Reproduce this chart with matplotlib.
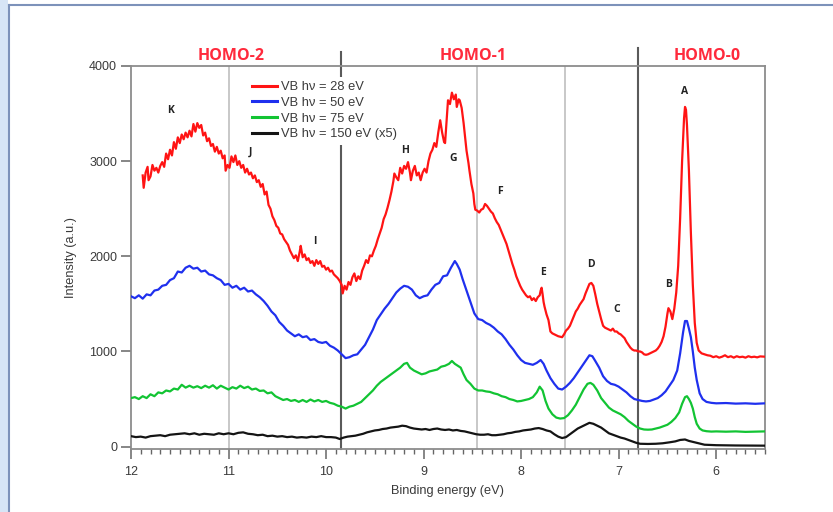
import matplotlib
matplotlib.use("Agg")
import matplotlib.pyplot as plt
from matplotlib.patches import Rectangle
from matplotlib.lines import Line2D
from matplotlib.ticker import MultipleLocator

# ---------------- data ----------------
red_points = [
    (11.88, 2850), (11.87, 2720), (11.85, 2880), (11.83, 2940), (11.82, 2800), (11.80, 2840),
    (11.78, 2960), (11.76, 2900), (11.74, 2930), (11.72, 2880), (11.70, 2950), (11.68, 2990),
    (11.66, 2940), (11.64, 3080), (11.62, 3020), (11.60, 3120), (11.58, 3060), (11.56, 3200),
    (11.54, 3130), (11.52, 3250), (11.50, 3190), (11.48, 3280), (11.46, 3230), (11.44, 3300),
    (11.42, 3250), (11.40, 3320), (11.38, 3260), (11.36, 3390), (11.34, 3310), (11.32, 3400),
    (11.30, 3350), (11.28, 3380), (11.26, 3270), (11.24, 3300), (11.22, 3210), (11.20, 3240),
    (11.18, 3160), (11.16, 3180), (11.14, 3100), (11.12, 3150), (11.10, 3080), (11.08, 3110),
    (11.06, 3030), (11.04, 3060), (11.03, 2900), (11.01, 2960), (10.99, 2930), (10.97, 3050),
    (10.95, 2990), (10.93, 3060), (10.91, 2960), (10.89, 3000), (10.87, 2930), (10.85, 2960),
    (10.83, 2880), (10.81, 2920), (10.79, 2860), (10.77, 2880), (10.75, 2820), (10.73, 2850),
    (10.71, 2780), (10.69, 2800), (10.67, 2730), (10.65, 2760), (10.63, 2650), (10.61, 2680),
    (10.59, 2540), (10.57, 2500), (10.55, 2420), (10.53, 2380), (10.51, 2320), (10.49, 2300),
    (10.47, 2240), (10.45, 2230), (10.43, 2180), (10.41, 2150), (10.39, 2120), (10.37, 2060),
    (10.35, 2020), (10.33, 1980), (10.31, 2010), (10.29, 1950), (10.27, 2050), (10.26, 2110),
    (10.24, 1990), (10.22, 2020), (10.20, 1960), (10.18, 1980), (10.16, 1930), (10.14, 1950),
    (10.12, 1900), (10.10, 1960), (10.08, 1920), (10.06, 1950), (10.04, 1890), (10.02, 1900),
    (10.00, 1860), (9.98, 1880), (9.96, 1840), (9.94, 1850), (9.92, 1810), (9.90, 1790),
    (9.88, 1770), (9.86, 1740), (9.84, 1700), (9.83, 1610), (9.81, 1690), (9.79, 1650),
    (9.77, 1730), (9.75, 1700), (9.73, 1780), (9.71, 1820), (9.69, 1740), (9.67, 1790),
    (9.65, 1760), (9.63, 1850), (9.61, 1900), (9.59, 1960), (9.57, 1930), (9.55, 2010),
    (9.53, 2000), (9.51, 2060), (9.49, 2110), (9.47, 2180), (9.45, 2240), (9.43, 2300),
    (9.41, 2390), (9.39, 2440), (9.37, 2510), (9.35, 2590), (9.33, 2680), (9.31, 2790),
    (9.30, 2870), (9.28, 2830), (9.26, 2800), (9.24, 2930), (9.22, 2870), (9.20, 2950),
    (9.18, 2920), (9.16, 2990), (9.14, 2880), (9.13, 2800), (9.11, 2900), (9.09, 2950),
    (9.07, 2850), (9.05, 2880), (9.03, 2800), (9.01, 2880), (8.99, 2920), (8.97, 2880),
    (8.95, 3000), (8.93, 3080), (8.91, 3120), (8.89, 3190), (8.87, 3150), (8.85, 3300),
    (8.83, 3430), (8.81, 3300), (8.79, 3200), (8.78, 3190), (8.76, 3500), (8.75, 3640),
    (8.73, 3600), (8.71, 3720), (8.69, 3650), (8.67, 3700), (8.66, 3570), (8.64, 3650),
    (8.63, 3640), (8.61, 3560), (8.59, 3400), (8.57, 3200), (8.56, 3110), (8.54, 2980),
    (8.53, 2900), (8.51, 2760), (8.49, 2660), (8.48, 2550), (8.47, 2490), (8.45, 2480),
    (8.43, 2460), (8.41, 2490), (8.39, 2500), (8.37, 2550), (8.35, 2530), (8.33, 2500),
    (8.31, 2470), (8.29, 2450), (8.27, 2400), (8.25, 2360), (8.23, 2330), (8.21, 2280),
    (8.19, 2230), (8.17, 2180), (8.15, 2130), (8.13, 2060), (8.11, 1990), (8.09, 1920),
    (8.07, 1860), (8.05, 1790), (8.03, 1740), (8.01, 1690), (7.99, 1650), (7.97, 1620),
    (7.95, 1590), (7.93, 1570), (7.91, 1580), (7.89, 1540), (7.87, 1560), (7.85, 1530),
    (7.83, 1570), (7.81, 1590), (7.80, 1640), (7.79, 1670), (7.78, 1600), (7.77, 1520),
    (7.76, 1470), (7.74, 1390), (7.72, 1330), (7.70, 1210), (7.68, 1190), (7.66, 1180),
    (7.64, 1170), (7.62, 1160), (7.60, 1155), (7.58, 1150), (7.56, 1180), (7.54, 1220),
    (7.52, 1240), (7.50, 1270), (7.48, 1320), (7.46, 1370), (7.44, 1420), (7.42, 1450),
    (7.40, 1490), (7.38, 1520), (7.36, 1550), (7.34, 1610), (7.32, 1660), (7.30, 1710),
    (7.28, 1720), (7.26, 1690), (7.24, 1600), (7.22, 1500), (7.20, 1420), (7.18, 1340),
    (7.16, 1270), (7.14, 1250), (7.12, 1240), (7.10, 1230), (7.08, 1220), (7.06, 1240),
    (7.04, 1210), (7.02, 1210), (7.00, 1190), (6.98, 1180), (6.96, 1160), (6.94, 1140),
    (6.92, 1100), (6.90, 1070), (6.88, 1040), (6.86, 1020), (6.84, 1010), (6.82, 1010),
    (6.80, 1000), (6.78, 1000), (6.76, 990), (6.74, 970), (6.72, 965), (6.70, 970),
    (6.68, 980), (6.66, 990), (6.64, 1000), (6.62, 1010), (6.60, 1030), (6.58, 1060),
    (6.56, 1100), (6.54, 1160), (6.52, 1260), (6.50, 1400), (6.49, 1455), (6.47, 1420),
    (6.45, 1340), (6.43, 1450), (6.41, 1620), (6.39, 1900), (6.37, 2400), (6.35, 3000),
    (6.33, 3450), (6.32, 3570), (6.31, 3540), (6.30, 3380), (6.28, 2900), (6.26, 2250),
    (6.24, 1700), (6.22, 1300), (6.20, 1090), (6.18, 1010), (6.15, 980), (6.12, 970),
    (6.09, 960), (6.06, 955), (6.03, 940), (6.00, 950), (5.97, 935), (5.94, 945),
    (5.91, 960), (5.88, 940), (5.85, 950), (5.82, 935), (5.79, 950), (5.76, 940),
    (5.73, 945), (5.70, 935), (5.67, 950), (5.64, 940), (5.61, 945), (5.58, 938),
    (5.55, 948), (5.50, 945),
]

blue_points = [
    (12.00, 1580), (11.96, 1560), (11.92, 1590), (11.88, 1555), (11.84, 1600), (11.80, 1590),
    (11.76, 1640), (11.72, 1650), (11.68, 1690), (11.64, 1700), (11.60, 1750), (11.56, 1770),
    (11.52, 1840), (11.48, 1830), (11.44, 1880), (11.40, 1900), (11.36, 1870), (11.32, 1880),
    (11.28, 1840), (11.24, 1850), (11.20, 1810), (11.16, 1800), (11.12, 1770), (11.08, 1750),
    (11.04, 1700), (11.00, 1710), (10.96, 1670), (10.92, 1690), (10.88, 1650), (10.84, 1670),
    (10.80, 1630), (10.76, 1640), (10.72, 1600), (10.68, 1570), (10.64, 1530), (10.60, 1480),
    (10.56, 1420), (10.52, 1380), (10.48, 1310), (10.44, 1270), (10.40, 1220), (10.36, 1190),
    (10.32, 1160), (10.28, 1180), (10.24, 1150), (10.20, 1160), (10.16, 1120), (10.12, 1130),
    (10.08, 1100), (10.04, 1090), (10.00, 1100), (9.96, 1060), (9.92, 1040), (9.88, 1010),
    (9.84, 970), (9.80, 930), (9.76, 940), (9.72, 960), (9.68, 970), (9.64, 1020),
    (9.60, 1070), (9.56, 1150), (9.52, 1230), (9.48, 1330), (9.44, 1390), (9.40, 1450),
    (9.36, 1500), (9.32, 1560), (9.28, 1620), (9.24, 1660), (9.20, 1690), (9.16, 1680),
    (9.12, 1650), (9.08, 1590), (9.04, 1560), (9.00, 1580), (8.96, 1590), (8.92, 1650),
    (8.88, 1700), (8.84, 1720), (8.80, 1790), (8.76, 1800), (8.72, 1880), (8.68, 1950),
    (8.66, 1920), (8.63, 1860), (8.60, 1760), (8.56, 1640), (8.52, 1520), (8.48, 1400),
    (8.44, 1340), (8.40, 1330), (8.36, 1300), (8.32, 1280), (8.28, 1250), (8.24, 1210),
    (8.20, 1180), (8.16, 1130), (8.12, 1070), (8.08, 1020), (8.04, 960), (8.00, 910),
    (7.96, 880), (7.92, 870), (7.88, 860), (7.84, 880), (7.80, 910), (7.77, 870),
    (7.74, 800), (7.70, 720), (7.66, 660), (7.62, 610), (7.58, 600), (7.54, 630),
    (7.50, 670), (7.46, 720), (7.42, 780), (7.38, 840), (7.34, 900), (7.30, 960),
    (7.27, 950), (7.24, 900), (7.20, 830), (7.16, 740), (7.12, 690), (7.08, 660),
    (7.04, 650), (7.00, 630), (6.96, 600), (6.92, 570), (6.88, 530), (6.84, 500),
    (6.80, 490), (6.76, 480), (6.72, 475), (6.68, 480), (6.64, 495), (6.60, 510),
    (6.56, 540), (6.52, 580), (6.48, 640), (6.44, 700), (6.40, 800), (6.37, 980),
    (6.34, 1200), (6.32, 1320), (6.30, 1320), (6.28, 1240), (6.26, 1150), (6.24, 1000),
    (6.22, 830), (6.20, 700), (6.17, 560), (6.14, 500), (6.10, 470), (6.05, 460),
    (6.00, 455), (5.90, 458), (5.80, 452), (5.70, 455), (5.60, 450), (5.50, 455),
]

green_points = [
    (12.00, 510), (11.96, 520), (11.92, 500), (11.88, 530), (11.84, 510), (11.80, 550),
    (11.76, 530), (11.72, 570), (11.68, 560), (11.64, 590), (11.60, 580), (11.56, 610),
    (11.52, 600), (11.48, 650), (11.44, 620), (11.40, 640), (11.36, 620), (11.32, 635),
    (11.28, 615), (11.24, 640), (11.20, 620), (11.16, 645), (11.12, 610), (11.08, 640),
    (11.04, 620), (11.00, 600), (10.96, 625), (10.92, 610), (10.88, 640), (10.84, 615),
    (10.80, 630), (10.76, 600), (10.72, 610), (10.68, 585), (10.64, 590), (10.60, 560),
    (10.56, 570), (10.52, 530), (10.48, 510), (10.44, 490), (10.40, 500), (10.36, 480),
    (10.32, 490), (10.28, 470), (10.24, 490), (10.20, 470), (10.16, 495), (10.12, 475),
    (10.08, 490), (10.04, 470), (10.00, 480), (9.96, 460), (9.92, 450), (9.88, 430),
    (9.84, 420), (9.80, 400), (9.76, 420), (9.72, 430), (9.68, 450), (9.64, 470),
    (9.60, 510), (9.56, 550), (9.52, 590), (9.48, 640), (9.44, 680), (9.40, 710),
    (9.36, 740), (9.32, 770), (9.28, 800), (9.24, 830), (9.20, 870), (9.17, 880),
    (9.14, 830), (9.10, 800), (9.06, 780), (9.02, 760), (8.98, 770), (8.94, 790),
    (8.90, 800), (8.86, 810), (8.82, 840), (8.78, 850), (8.74, 870), (8.71, 900),
    (8.68, 870), (8.65, 850), (8.62, 830), (8.59, 760), (8.56, 700), (8.52, 660),
    (8.48, 610), (8.44, 590), (8.40, 590), (8.36, 580), (8.32, 575), (8.28, 560),
    (8.24, 550), (8.20, 530), (8.16, 520), (8.12, 500), (8.08, 490), (8.04, 475),
    (8.00, 480), (7.96, 490), (7.92, 500), (7.88, 520), (7.84, 570), (7.81, 630),
    (7.78, 590), (7.75, 480), (7.72, 400), (7.68, 340), (7.64, 305), (7.60, 295),
    (7.56, 300), (7.52, 330), (7.48, 380), (7.44, 440), (7.40, 520), (7.36, 600),
    (7.32, 660), (7.29, 670), (7.26, 650), (7.22, 590), (7.18, 510), (7.14, 460),
    (7.10, 410), (7.06, 380), (7.02, 360), (6.98, 340), (6.94, 310), (6.90, 270),
    (6.86, 240), (6.82, 210), (6.78, 190), (6.74, 180), (6.70, 178), (6.66, 180),
    (6.62, 190), (6.58, 200), (6.54, 215), (6.50, 230), (6.46, 260), (6.42, 300),
    (6.38, 360), (6.35, 450), (6.32, 520), (6.30, 530), (6.28, 500), (6.26, 460),
    (6.24, 400), (6.22, 310), (6.20, 240), (6.17, 190), (6.14, 170), (6.10, 162),
    (6.05, 158), (6.00, 160), (5.90, 157), (5.80, 160), (5.70, 155), (5.60, 158),
    (5.50, 160),
]

black_points = [
    (12.00, 110), (11.95, 100), (11.90, 105), (11.85, 95), (11.80, 110), (11.75, 115),
    (11.70, 120), (11.65, 110), (11.60, 125), (11.55, 130), (11.50, 135), (11.45, 140),
    (11.40, 130), (11.35, 140), (11.30, 125), (11.25, 135), (11.20, 130), (11.15, 125),
    (11.10, 140), (11.05, 130), (11.00, 140), (10.95, 130), (10.90, 145), (10.85, 150),
    (10.80, 135), (10.75, 130), (10.70, 120), (10.65, 125), (10.60, 110), (10.55, 115),
    (10.50, 105), (10.45, 110), (10.40, 100), (10.35, 105), (10.30, 95), (10.25, 100),
    (10.20, 95), (10.15, 105), (10.10, 100), (10.05, 110), (10.00, 100), (9.95, 100),
    (9.90, 95), (9.86, 80), (9.82, 95), (9.78, 105), (9.74, 110), (9.70, 115),
    (9.66, 125), (9.62, 135), (9.58, 150), (9.54, 160), (9.50, 170), (9.46, 175),
    (9.42, 185), (9.38, 190), (9.34, 200), (9.30, 205), (9.26, 210), (9.22, 220),
    (9.18, 215), (9.14, 200), (9.10, 190), (9.06, 185), (9.02, 180), (8.98, 185),
    (8.94, 175), (8.90, 185), (8.86, 190), (8.82, 180), (8.78, 175), (8.74, 180),
    (8.70, 170), (8.66, 175), (8.62, 165), (8.58, 160), (8.54, 150), (8.50, 140),
    (8.46, 130), (8.42, 125), (8.38, 125), (8.34, 130), (8.30, 120), (8.26, 120),
    (8.22, 125), (8.18, 130), (8.14, 140), (8.10, 145), (8.06, 155), (8.02, 160),
    (7.98, 170), (7.94, 175), (7.90, 180), (7.86, 190), (7.82, 195), (7.78, 185),
    (7.74, 170), (7.70, 160), (7.66, 130), (7.62, 105), (7.58, 90), (7.54, 100),
    (7.50, 130), (7.46, 160), (7.42, 190), (7.38, 210), (7.34, 230), (7.30, 250),
    (7.26, 240), (7.22, 220), (7.18, 200), (7.14, 170), (7.10, 140), (7.06, 125),
    (7.02, 110), (6.98, 95), (6.94, 85), (6.90, 70), (6.86, 55), (6.82, 40),
    (6.78, 30), (6.70, 28), (6.62, 30), (6.55, 35), (6.48, 45), (6.42, 55),
    (6.37, 70), (6.32, 75), (6.28, 60), (6.24, 50), (6.18, 35), (6.12, 20),
    (6.00, 15), (5.80, 12), (5.50, 10),
]

series_labels = ["VB h\u03bd = 28 eV", "VB h\u03bd = 50 eV", "VB h\u03bd = 75 eV",
                 "VB h\u03bd = 150 eV (x5)"]

peak_names = ["K", "J", "I", "H", "G", "F", "E", "D", "C", "B", "A"]
peak_x = [11.59, 10.77, 10.12, 9.19, 8.70, 8.22, 7.78, 7.28, 7.02, 6.49, 6.32]
peak_y = [3536, 3099, 2154, 3116, 3029, 2679, 1829, 1910, 1437, 1700, 3728]

region_names = ["HOMO-2", "HOMO-1", "HOMO-0"]
region_x = [10.97, 8.49, 6.09]

light_lines = [11.0, 8.45, 7.55]
dark_lines = [9.85, 6.8]
dark_tops = [4150, 4190]

# ---------------- figure ----------------
W, H = 833, 512
fig = plt.figure(figsize=(W / 100, H / 100), dpi=100)
fig.patch.set_facecolor("white")

# page border decoration
fig.add_artist(Rectangle((0, 0), 8 / W, 1, transform=fig.transFigure,
                         facecolor="#d7e5f6", edgecolor="none", zorder=0))
fig.add_artist(Line2D([8.5 / W, 8.5 / W], [0, 1 - 4.5 / H], transform=fig.transFigure,
                      color="#7d92ba", lw=1.5))
fig.add_artist(Line2D([8.5 / W, 1], [1 - 4.5 / H, 1 - 4.5 / H], transform=fig.transFigure,
                      color="#7d92ba", lw=1.5))

ax = fig.add_axes([131 / W, 1 - 449 / H, (765 - 131) / W, (449 - 66) / H])
ax.set_xlim(12.0, 5.5)
ax.set_ylim(-25, 4000)

ymin, ymax = ax.get_ylim()
for xv in light_lines:
    ax.plot([xv, xv], [ymin, ymax], color="#c4c4c4", lw=1.3, zorder=1)
for xv, top in zip(dark_lines, dark_tops):
    ax.plot([xv, xv], [ymin, top], color="#5a5a5a", lw=1.5, zorder=1, clip_on=False)

colors = ["#ff1414", "#1f30ee", "#12c433", "#141414"]
all_points = [red_points, blue_points, green_points, black_points]
for pts, c, lab in zip(all_points, colors, series_labels):
    x = [p[0] for p in pts]
    y = [p[1] for p in pts]
    ax.plot(x, y, color=c, lw=1.6, label=lab, zorder=3)

for n, px, py in zip(peak_names, peak_x, peak_y):
    ax.text(px, py, n, ha="center", va="center", fontsize=7.5, fontweight="bold",
            color="#222222", family="Open Sans")

for n, px in zip(region_names, region_x):
    ax.text(px, 4105, n, ha="center", va="center", fontsize=11.5, fontweight="bold",
            color="#ff2a3c", family="Open Sans", clip_on=False)

leg = ax.legend(loc="upper left", bbox_to_anchor=(0.183, 0.972), borderaxespad=0,
                frameon=True, fancybox=False, framealpha=1, edgecolor="none",
                facecolor="white", handlelength=2.0, handletextpad=0.3,
                labelspacing=0.28, borderpad=0.35,
                prop={"family": "Liberation Sans", "size": 9.3})
for t in leg.get_texts():
    t.set_color("#3a3a3a")
for l in leg.get_lines():
    l.set_linewidth(2.2)
leg.set_zorder(5)

# spines and ticks
for s in ax.spines.values():
    s.set_color("#8c8c8c")
    s.set_linewidth(1.3)
ax.xaxis.set_major_locator(MultipleLocator(1))
ax.xaxis.set_minor_locator(MultipleLocator(0.1))
ax.yaxis.set_major_locator(MultipleLocator(1000))
ax.tick_params(axis="both", which="major", direction="out", length=7, width=1.1,
               color="#666666", labelcolor="#3a3a3a", labelsize=9, pad=3)
ax.tick_params(axis="x", which="major", pad=5)
ax.tick_params(axis="x", which="minor", direction="out", length=3.5, width=1.0, color="#666666")
ax.tick_params(axis="y", which="minor", left=False)
for lbl in ax.get_xticklabels() + ax.get_yticklabels():
    lbl.set_family("Liberation Sans")

ax.set_xlabel("Binding energy (eV)", fontsize=9.2, color="#3a3a3a", family="Liberation Sans",
              labelpad=5)
ax.set_ylabel("Intensity (a.u.)", fontsize=9.2, color="#3a3a3a", family="Liberation Sans",
              labelpad=9)

fig.savefig("out.png", dpi=100)
